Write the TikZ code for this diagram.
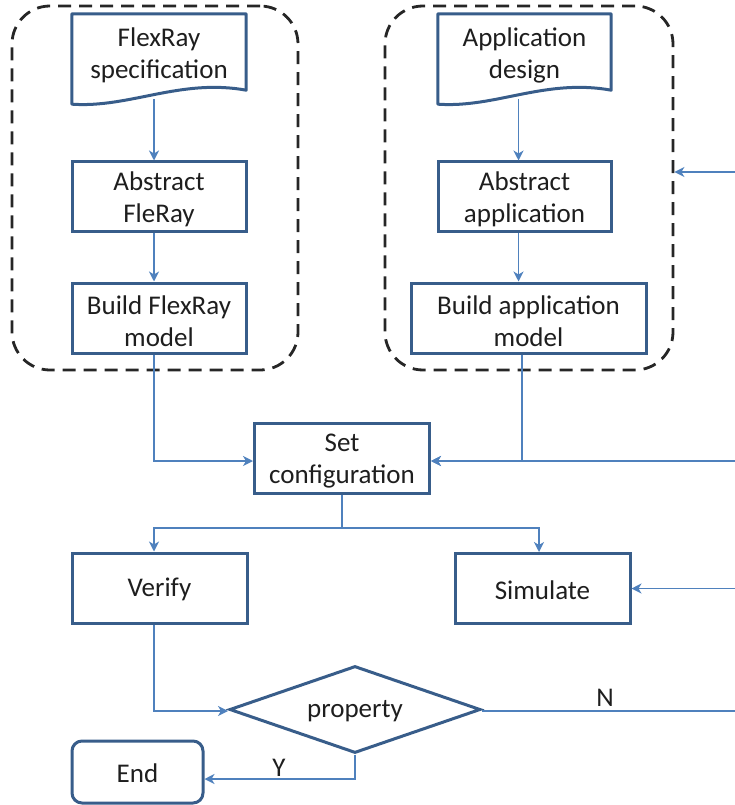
\documentclass[tikz,border=0pt]{standalone}
\usepackage{fontspec}
\setmainfont{Carlito}
\usetikzlibrary{shapes.geometric,arrows.meta,calc}
\definecolor{boxblue}{RGB}{56,93,138}
\definecolor{linkblue}{RGB}{79,129,189}
\definecolor{ink}{RGB}{30,30,30}
\begin{document}
\begin{tikzpicture}[x=1pt,y=-1pt,
  every node/.style={font=\fontsize{27}{32}\selectfont, text=ink},
  steptext/.style={align=center, inner sep=0pt, yshift=-3pt},
  onetext/.style={align=center, inner sep=0pt, yshift=-1.5pt},
  stepbox/.style={draw=boxblue, line width=3pt, minimum width=175pt, minimum height=70pt, inner sep=0pt},
  docshape/.style={draw=none, minimum width=174pt, minimum height=76pt, inner sep=0pt},
  groupbox/.style={draw=black!85, line width=2.8pt, dash pattern=on 13pt off 8pt, rounded corners=38pt, inner sep=0pt},
  link/.style={draw=linkblue, line width=1.5pt},
  arr/.style={link, -{Stealth[length=10pt,width=10pt,inset=3pt]}},
]
\useasboundingbox (0,0) rectangle (735,805);

% dashed groups
\node[groupbox, minimum width=286pt, minimum height=364pt] (grpL) at (155,188) {};
\node[groupbox, minimum width=288pt, minimum height=364pt] (grpR) at (529,188) {};

% process steps
\node[docshape, label={[steptext]center:FlexRay\\specification}] (docL) at (159,52) {};
\node[stepbox, minimum width=174pt, minimum height=69pt, label={[steptext]center:Abstract\\FleRay}] (absL) at (159,196.5) {};
\node[stepbox, minimum width=174pt, label={[steptext]center:Build FlexRay\\model}] (bldL) at (159,318) {};
\node[docshape, minimum width=173pt, label={[steptext]center:Application\\design}] (docR) at (524.5,52) {};
\node[stepbox, minimum width=173pt, minimum height=69pt, label={[steptext]center:Abstract\\application}] (absR) at (524.5,196.5) {};
\node[stepbox, minimum width=235pt, label={[steptext]center:Build application\\model}] (bldR) at (528.5,318) {};
\node[stepbox, label={[steptext]center:Set\\configuration}] (cfg) at (342,458.5) {};
\node[stepbox, label={[onetext]center:Verify}] (ver) at (159.5,588) {};
\node[stepbox, label={[onetext]center:Simulate}] (sim) at (542.5,588.5) {};
\node[diamond, draw=boxblue, line width=3pt, minimum width=251pt, minimum height=87pt, inner sep=0pt, label={[onetext]center:property}] (prop) at (355,709.5) {};
\node[draw=boxblue, line width=3pt, rounded corners=10pt, minimum width=131pt, minimum height=62pt, inner sep=0pt, label={[onetext]center:End}] (endn) at (137.5,772) {};

% document outlines with wavy bottom
\foreach \d in {docL,docR}
  \draw[boxblue, line width=3pt, line join=round]
    (\d.north west) -- (\d.north east) -- (\d.south east)
    .. controls ($(\d.south east)+(-66,-12)$) and ($(\d.south west)+(58,18)$) .. ($(\d.south west)+(0,14)$) -- cycle;

% helper coordinates
\coordinate (cL) at (154,0);
\coordinate (cR) at (518.5,0);
\coordinate (cR2) at (522,0);
\coordinate (split) at (0,528);
\coordinate (eA) at (735,172);
\coordinate (eB) at (735,461);
\coordinate (eC) at (735,588.5);
\coordinate (eD) at (735,711);
\path (docL.south -| cL) ++(0,9) coordinate (dLo);
\path (docR.south -| cR) ++(0,9) coordinate (dRo);

% connectors
\draw[arr] (dLo) -- (absL.north -| cL);
\draw[arr] (absL.south -| cL) -- (bldL.north -| cL);
\draw[arr] (bldL.south -| cL) |- (cfg.west |- eB);
\draw[arr] (dRo) -- (absR.north -| cR);
\draw[arr] (absR.south -| cR) -- (bldR.north -| cR);
\draw[arr] (bldR.south -| cR2) |- (cfg.east |- eB);
\draw[arr] (eB) -- (cfg.east |- eB);
\draw[arr] (eA) -- (grpR.east |- eA);
\draw[link] (cfg.south) -- (cfg.south |- split);
\draw[arr] (cfg.south |- split) -| (ver.north -| cL);
\draw[arr] (cfg.south |- split) -| ($(sim.north)+(-3.5,0)$);
\draw[arr] (eC) -- (sim.east);
\draw[arr] (ver.south -| cL) |- (prop.west |- eD);
\draw[link] (prop.east |- eD) -- (eD);
\draw[arr] (prop.south) |- ($(endn.east)+(0,7)$);

% branch labels
\node (lblN) at (605,698) {N};
\node (lblY) at (279,768) {Y};
\end{tikzpicture}
\end{document}
